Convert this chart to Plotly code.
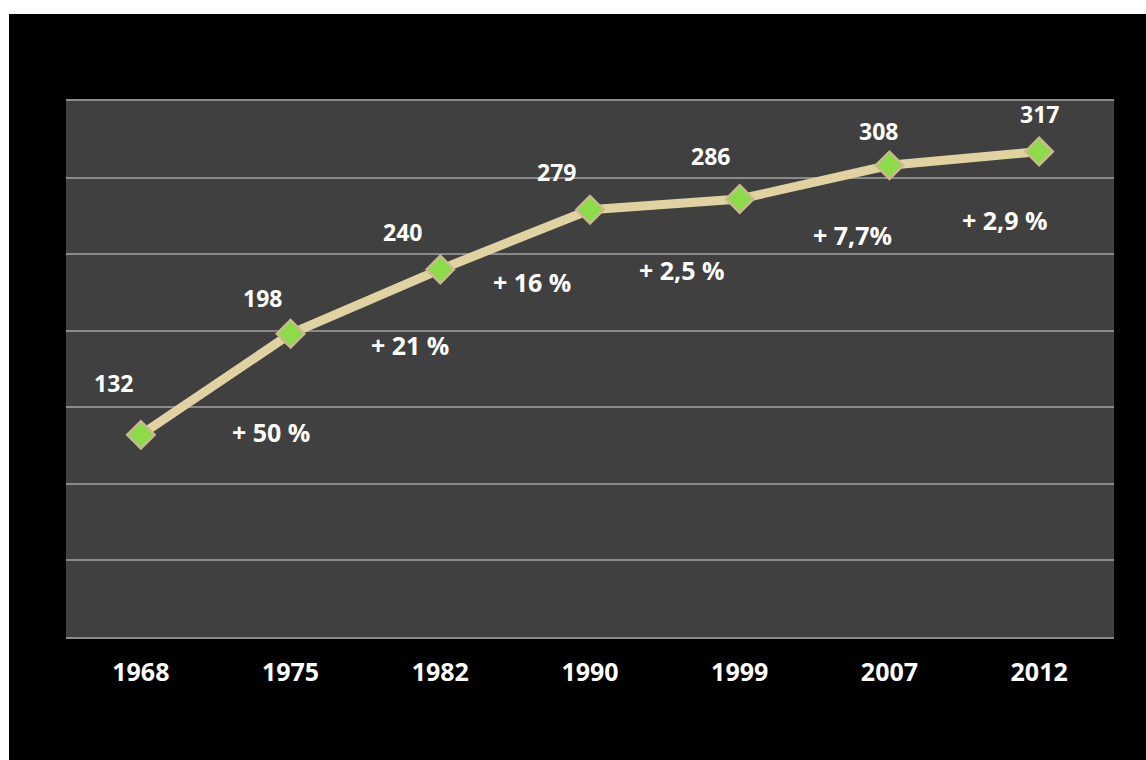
import plotly.graph_objects as go

# ---- data ----
years = ["1968", "1975", "1982", "1990", "1999", "2007", "2012"]
values = [132, 198, 240, 279, 286, 308, 317]
pct_labels = ["+ 50 %", "+ 21 %", "+ 16 %", "+ 2,5 %", "+ 7,7%", "+ 2,9 %"]

# ---- label placement (pixel shifts relative to the points) ----
val_shift = [(-27, 52), (-28, 36), (-38, 37), (-34, 38), (-29, 43), (-11, 34), (0, 38)]
pct_shift = [(-20, -98), (-30, -76), (-58, -72), (-58, -71), (-37, -70), (-34, -68)]

W, H = 1146, 760
ML, MR, MT, MB = 66, 32, 101, 123
PW, PH = W - ML - MR, H - MT - MB

FONT = "Open Sans"
xs = list(range(len(years)))

fig = go.Figure()
fig.add_trace(go.Scatter(
    x=xs, y=values, mode="lines+markers",
    line=dict(color="#e0d3a1", width=9),
    marker=dict(symbol="diamond", size=21, color="#8cdc4a",
                line=dict(color="#c9b98c", width=2.5)),
    hoverinfo="skip", showlegend=False,
))

annotations = []
for i, v in enumerate(values):
    dx, dy = val_shift[i]
    annotations.append(dict(
        x=xs[i], y=v, text=str(v), showarrow=False, xshift=dx, yshift=dy,
        font=dict(family=FONT, size=23, color="white", weight=700),
    ))
for i, t in enumerate(pct_labels):
    dx, dy = pct_shift[i]
    annotations.append(dict(
        x=xs[i + 1], y=values[i + 1], text=t, showarrow=False, xshift=dx, yshift=dy,
        font=dict(family=FONT, size=25, color="white", weight=700),
    ))

# white strips at top and left edge of the picture
shapes = [
    dict(type="rect", xref="paper", yref="paper",
         x0=-ML / PW - 0.01, x1=1 + MR / PW + 0.01,
         y0=1 + (MT - 14) / PH, y1=1 + MT / PH + 0.01,
         fillcolor="white", line=dict(width=0), layer="above"),
    dict(type="rect", xref="paper", yref="paper",
         x0=-ML / PW - 0.01, x1=(-ML + 9) / PW,
         y0=-MB / PH - 0.01, y1=1 + MT / PH + 0.01,
         fillcolor="white", line=dict(width=0), layer="above"),
]

fig.update_layout(
    width=W, height=H,
    margin=dict(l=ML, r=MR, t=MT, b=MB),
    paper_bgcolor="black", plot_bgcolor="#404040",
    annotations=annotations, shapes=shapes,
    xaxis=dict(
        range=[-0.5, len(years) - 0.5], tickvals=xs, ticktext=years,
        showgrid=False, zeroline=False, showline=True, mirror=True,
        linecolor="#8a8a8a", linewidth=2, ticks="", ticklabelstandoff=12,
        tickfont=dict(family=FONT, size=25, color="white", weight=700),
    ),
    yaxis=dict(
        range=[0, 350], dtick=50, showticklabels=False, zeroline=False,
        showgrid=True, gridcolor="#8a8a8a", gridwidth=1.5, showline=False,
    ),
)

fig.write_html("out.html")
